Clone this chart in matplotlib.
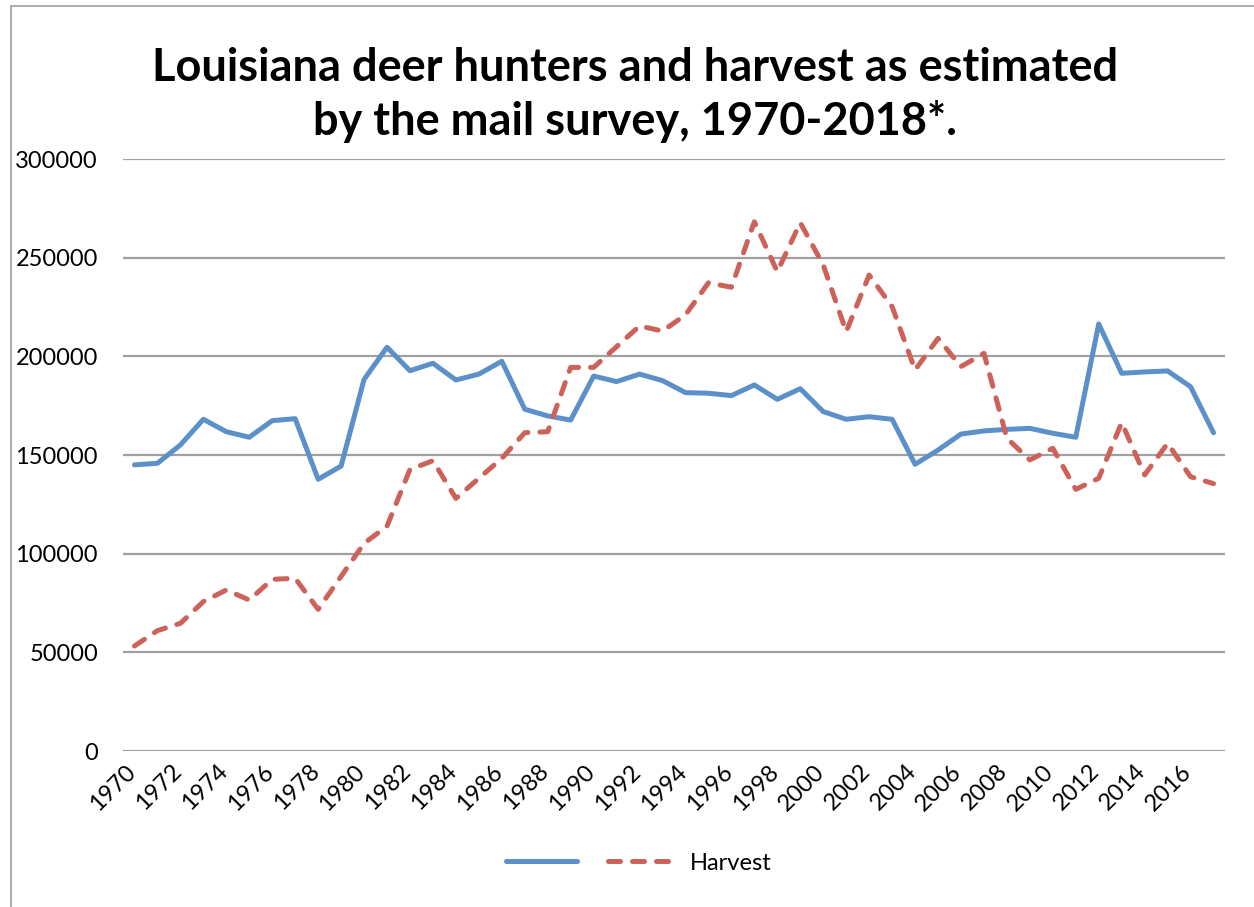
import matplotlib
matplotlib.use("Agg")
import matplotlib.pyplot as plt
import matplotlib.transforms as mtransforms
from matplotlib.patches import Rectangle

years = list(range(1970, 2018))
hunters = [145000, 145800, 155100, 168100, 161800, 159000, 167400, 168400, 137700, 144400,
           188300, 204600, 192700, 196500, 188000, 191000, 197500, 173200, 169800, 167700,
           190000, 187200, 191000, 187700, 181600, 181300, 180100, 185500, 178200, 183600,
           172000, 168100, 169400, 168100, 145300, 152500, 160600, 162200, 163000, 163500,
           161000, 159000, 216400, 191400, 192100, 192600, 184600, 161300]
harvest = [53200, 61000, 64700, 75700, 81600, 76500, 87000, 87500, 71800, 88500,
           105200, 114000, 142700, 147100, 128000, 138200, 148300, 161300, 161800, 194400,
           194400, 204900, 215400, 212800, 221000, 237300, 235000, 268200, 242900, 267700,
           246300, 212500, 241200, 225200, 193100, 209100, 194800, 201500, 158500, 147500,
           153400, 132600, 138200, 166400, 139900, 155900, 139000, 135500]
tick_labels = [str(y) for y in years[::2]]
yticks = [0, 50000, 100000, 150000, 200000, 250000, 300000]
title = "Louisiana deer hunters and harvest as estimated\nby the mail survey, 1970-2018*."

plt.rcParams['font.family'] = ['Lato', 'DejaVu Sans']

W, H = 1254, 907
fig = plt.figure(figsize=(W / 100, H / 100), dpi=100)
fig.patch.set_facecolor('white')

# chart border
fig.add_artist(Rectangle((11 / W, -0.1), 1.2, (1 - 6 / H) + 0.1, transform=fig.transFigure,
                         fill=False, edgecolor='#a6a6a6', linewidth=1.3))

ax = fig.add_axes([123 / W, 1 - 751 / H, (1225 - 123) / W, (751 - 159) / H])
x = list(range(len(years)))
blue = '#5B90C9'
red = '#CD625B'
l1, = ax.plot(x, hunters, color=blue, linewidth=3.6, solid_capstyle='round', zorder=3)
l2, = ax.plot(x, harvest, color=red, linewidth=3.6, dashes=(2.4, 2.4), dash_capstyle='round', zorder=3)

ax.set_xlim(-0.5, len(years) - 0.5)
ax.set_ylim(0, 300000)
ax.set_yticks(yticks)
ax.set_yticklabels([str(v) for v in yticks])
ax.set_xticks(x[::2])
ax.set_xticklabels(tick_labels, rotation=45, ha='right', va='top')
ax.tick_params(axis='both', length=0, labelsize=17, colors='black')
ax.tick_params(axis='y', pad=18)
ax.tick_params(axis='x', pad=7)
offset = mtransforms.ScaledTranslation(5 / 100, 0, fig.dpi_scale_trans)
for lab in ax.get_xticklabels():
    lab.set_transform(lab.get_transform() + offset)
for s in ax.spines.values():
    s.set_visible(False)
ax.grid(axis='y', color='#a0a0a0', linewidth=1.6)
ax.set_axisbelow(True)

fig.text(635 / W, 1 - 95 / H, title, ha='center', va='center', fontsize=32.5, fontweight='bold',
         linespacing=1.33)

fig.legend([l1, l2], ['', 'Harvest'], loc='center', bbox_to_anchor=(639 / W, 1 - 863 / H),
           ncol=2, frameon=False, fontsize=17, handlelength=3.0, handletextpad=0.5,
           columnspacing=0.8)

fig.savefig('out.png', dpi=100)
